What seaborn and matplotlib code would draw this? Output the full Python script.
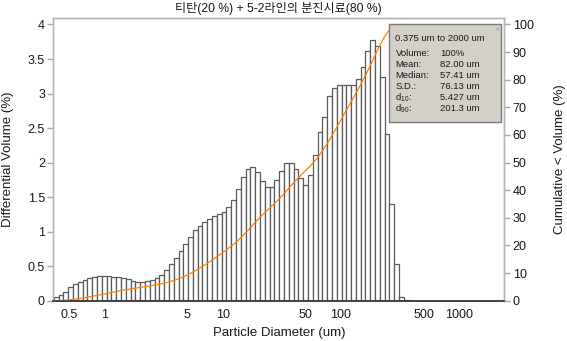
import numpy as np
import pandas as pd
import matplotlib
matplotlib.use('Agg')
import matplotlib.pyplot as plt
import seaborn as sns
from matplotlib.patches import Rectangle
from matplotlib.ticker import NullLocator

# ---- data ----
title = "티탄(20 %) + 5-2라인의 분진시료(80 %)"

# channel edges (um) of the size analyser, 0.375 .. 2000 um
channel_edges = [
    0.375, 0.412, 0.452, 0.496, 0.545, 0.598, 0.657, 0.721, 0.791, 0.869,
    0.954, 1.047, 1.149, 1.261, 1.385, 1.520, 1.669, 1.832, 2.010, 2.207,
    2.423, 2.660, 2.920, 3.206, 3.519, 3.862, 4.241, 4.656, 5.111, 5.611,
    6.159, 6.761, 7.422, 8.148, 8.944, 9.819, 10.78, 11.83, 12.99, 14.26,
    15.65, 17.18, 18.86, 20.71, 22.73, 24.95, 27.39, 30.07, 33.01, 36.24,
    39.78, 43.67, 47.94, 52.62, 57.77, 63.41, 69.61, 76.42, 83.89, 92.09,
    101.1, 111.0, 121.8, 133.7, 146.8, 161.2, 176.9, 194.2, 213.2, 234.1,
    256.9, 282.1, 309.6, 339.9, 373.1, 409.6, 449.7, 493.6, 541.9, 594.9,
    653.0, 716.9, 786.9, 863.9, 948.3, 1041, 1143, 1255, 1377, 1512,
    1660, 1822, 2000,
]

# differential volume (%) per channel, starting at 0.375 um
diff_volume = [
    0.058, 0.087, 0.13, 0.193, 0.237, 0.27, 0.30, 0.33, 0.348, 0.353,
    0.357, 0.353, 0.348, 0.338, 0.324, 0.31, 0.28, 0.275, 0.275, 0.28,
    0.295, 0.333, 0.377, 0.45, 0.527, 0.623, 0.725, 0.826, 0.928, 1.019,
    1.087, 1.145, 1.188, 1.227, 1.261, 1.29, 1.357, 1.464, 1.623, 1.792,
    1.908, 1.942, 1.865, 1.739, 1.652, 1.652, 1.754, 1.884, 2.0, 2.0,
    1.9, 1.78, 1.676, 1.826, 2.11, 2.45, 2.66, 2.966, 3.08, 3.13,
    3.13, 3.13, 3.13, 3.21, 3.39, 3.61, 3.78, 3.69, 3.24, 2.41,
    1.40, 0.53, 0.06, 0.01,
]

x_ticks = [0.5, 1, 5, 10, 50, 100, 500, 1000]
x_tick_labels = ["0.5", "1", "5", "10", "50", "100", "500", "1000"]
y_ticks = [0, 0.5, 1, 1.5, 2, 2.5, 3, 3.5, 4]
y_tick_labels = ["0", "0.5", "1", "1.5", "2", "2.5", "3", "3.5", "4"]
y2_ticks = [0, 10, 20, 30, 40, 50, 60, 70, 80, 90, 100]

stats_header = "0.375 um to 2000 um"
stats_labels = ["Volume:", "Mean:", "Median:", "S.D.:",
                r"d$_{\mathregular{10}}$:", r"d$_{\mathregular{90}}$:"]
stats_values = ["100%", "82.00 um", "57.41 um", "76.13 um", "5.427 um", "201.3 um"]

# ---- derived tables ----
n = len(diff_volume)
edges = np.array(channel_edges[: n + 1])
centers = np.sqrt(edges[:-1] * edges[1:])
df = pd.DataFrame({"size": centers, "vol": diff_volume})
cum = np.cumsum(diff_volume) / np.sum(diff_volume) * 100
df_cum = pd.DataFrame({"size": np.concatenate([[edges[0]], edges[1:]]),
                       "cum": np.concatenate([[0.0], cum])})
log_bins = [float(v) for v in np.log10(edges)]

# ---- style ----
sns.set_theme(style="white")
plt.rcParams["font.family"] = ["Liberation Sans", "Noto Sans CJK KR"]
plt.rcParams["mathtext.fontset"] = "custom"
plt.rcParams["mathtext.rm"] = "Liberation Sans"
plt.rcParams["mathtext.it"] = "Liberation Sans:italic"

fig = plt.figure(figsize=(5.67, 3.41), dpi=100)
ax = fig.add_axes([0.094, 0.1182, 0.7954, 0.8282])

sns.histplot(data=df, x="size", weights="vol", bins=log_bins,
             log_scale=True, stat="count", fill=True, color="white",
             edgecolor="#5a5a5a", linewidth=0.9, alpha=1, ax=ax)

ax.set_xlim(0.371, 2400)
ax.set_ylim(0, 4.09)
ax.set_xticks(x_ticks)
ax.set_xticklabels(x_tick_labels)
ax.xaxis.set_minor_locator(NullLocator())
ax.set_yticks(y_ticks)
ax.set_yticklabels(y_tick_labels)

ax2 = ax.twinx()
sns.lineplot(data=df_cum, x="size", y="cum", color="#ff8000", linewidth=0.9, ax=ax2)
ax2.set_ylim(0, 4.09 * 25)
ax2.set_yticks(y2_ticks)
ax2.set_yticklabels([str(v) for v in y2_ticks])
ax2.set_xlim(0.371, 2400)
ax2.xaxis.set_minor_locator(NullLocator())

for a in (ax, ax2):
    for s in ("left", "right", "top"):
        a.spines[s].set_color("#b4b4b4")
        a.spines[s].set_linewidth(1.0)
    a.spines["bottom"].set_color("#404040")
    a.spines["bottom"].set_linewidth(1.2)
    a.tick_params(axis="both", which="major", direction="out", length=4,
                  width=1, color="#a8a8a8", labelsize=9, labelcolor="#1a1a1a", pad=2)

ax.set_xlabel("Particle Diameter (um)", fontsize=9.5, color="#1a1a1a")
ax.set_ylabel("Differential Volume (%)", fontsize=9.5, color="#1a1a1a")
ax2.set_ylabel("Cumulative < Volume (%)", fontsize=9.5, color="#1a1a1a")
ax2.set_xlabel("")
ax.xaxis.set_label_coords(0.5, -0.093)
ax.yaxis.set_label_coords(-0.087, 0.5)
ax2.yaxis.set_label_coords(1.110, 0.5)

fig.text(0.4917, 1 - 8.5 / 341, title, ha="center", va="center",
         fontsize=8.7, color="#1a1a1a")

# statistics box
bx0, bx1 = 0.744, 0.992
by0, by1 = 0.634, 0.980
ax2.add_patch(Rectangle((bx0, by0), bx1 - bx0, by1 - by0, transform=ax2.transAxes,
                        facecolor="#d4d0c8", edgecolor="#7a7a7a", linewidth=1.0,
                        zorder=10, clip_on=False))
ax2.text(bx1 - 0.008, by1 - 0.01, "×", transform=ax2.transAxes, fontsize=4,
         color="#888888", ha="center", va="top", zorder=11)


def yfrac(py):
    return (300.7 - py) / 282.4


def xfrac(px):
    return (px - 53.3) / 451.0


fs_box = 6.8
ax2.text(xfrac(395.5), yfrac(38.3), stats_header, transform=ax2.transAxes,
         fontsize=fs_box, color="#1a1a1a", va="center", ha="left", zorder=11)
for i, (lab, val) in enumerate(zip(stats_labels, stats_values)):
    py = 54.0 + i * 10.9
    ax2.text(xfrac(395.5), yfrac(py), lab, transform=ax2.transAxes,
             fontsize=fs_box, color="#1a1a1a", va="center", ha="left", zorder=11)
    ax2.text(xfrac(440.5), yfrac(py), val, transform=ax2.transAxes,
             fontsize=fs_box, color="#1a1a1a", va="center", ha="left", zorder=11)

fig.savefig("out.png", dpi=100)
